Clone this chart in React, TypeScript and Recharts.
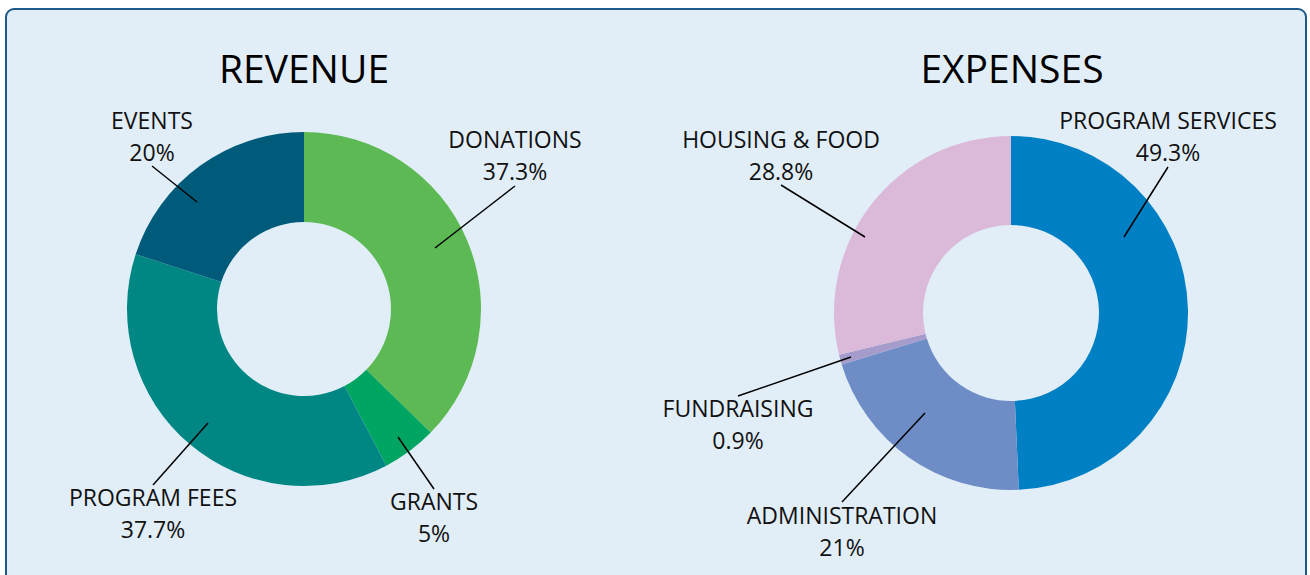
import React from 'react';
import { PieChart, Pie, Cell } from 'recharts';

const revenueNames = ['DONATIONS', 'GRANTS', 'PROGRAM FEES', 'EVENTS'];
const revenueValues = [37.3, 5, 37.7, 20];
const revenueColors = ['#5cb953', '#00a562', '#008784', '#005b7b'];

const expenseNames = ['PROGRAM SERVICES', 'ADMINISTRATION', 'FUNDRAISING', 'HOUSING & FOOD'];
const expenseValues = [49.3, 21, 0.9, 28.8];
const expenseColors = ['#0080c4', '#6e8cc6', '#a69ccc', '#dbb9d8'];

// label placement relative to the pie centre: text centre x, name line centre y, leader line start/end
const revenueLabelLayout = [
  { tx: 211, ty: -169, x1: 131, y1: -61, x2: 211, y2: -123 },
  { tx: 130, ty: 193, x1: 94, y1: 128, x2: 130, y2: 180 },
  { tx: -151, ty: 189, x1: -96, y1: 114, x2: -151, y2: 176 },
  { tx: -152, ty: -188, x1: -107, y1: -107, x2: -152, y2: -143 },
];
const expenseLabelLayout = [
  { tx: 157, ty: -192, x1: 113, y1: -76, x2: 157, y2: -146 },
  { tx: -169, ty: 203, x1: -86, y1: 100, x2: -169, y2: 189 },
  { tx: -273, ty: 96, x1: -160, y1: 44, x2: -273, y2: 83 },
  { tx: -230, ty: -173, x1: -146, y1: -76, x2: -230, y2: -128 },
];

const FONT = '"Open Sans", sans-serif';
const LABEL_SIZE = 23;

const toRows = (names: string[], values: number[]) => names.map((name, i) => ({ name, value: values[i] }));

const makeLabel = (layout: typeof revenueLabelLayout) => (props: any) => {
  const { cx, cy, index, name, value } = props;
  const l = layout[index];
  const base = LABEL_SIZE * 0.36;
  return (
    <g key={`lbl-${index}`}>
      <line x1={cx + l.x1} y1={cy + l.y1} x2={cx + l.x2} y2={cy + l.y2} stroke="#000" strokeWidth={1.5} />
      <text x={cx + l.tx} y={cy + l.ty + base} textAnchor="middle" fontSize={LABEL_SIZE} fontFamily={FONT} fill="#111">
        {name}
      </text>
      <text x={cx + l.tx} y={cy + l.ty + 32 + base} textAnchor="middle" fontSize={LABEL_SIZE} fontFamily={FONT} fill="#111">
        {`${value}%`}
      </text>
    </g>
  );
};

export default function App() {
  const revenue = toRows(revenueNames, revenueValues);
  const expenses = toRows(expenseNames, expenseValues);

  return (
    <div style={{ position: 'absolute', left: 0, top: 0, width: 1310, height: 575, overflow: 'hidden', background: '#fff' }}>
      <div
        style={{
          position: 'absolute',
          left: 5,
          top: 8,
          width: 1298,
          height: 600,
          border: '2px solid #1e5a8a',
          borderRadius: 9,
          background: '#e1eef8',
        }}
      />
      <div style={{ position: 'absolute', left: 0, top: 0 }}>
        <PieChart width={1310} height={575} margin={{ top: 0, right: 0, bottom: 0, left: 0 }}>
          <Pie
            data={revenue}
            dataKey="value"
            nameKey="name"
            cx={304}
            cy={309}
            innerRadius={87}
            outerRadius={177}
            startAngle={90}
            endAngle={-270}
            stroke="none"
            label={makeLabel(revenueLabelLayout)}
            labelLine={false}
            isAnimationActive={false}
          >
            {revenue.map((d, i) => (
              <Cell key={d.name} fill={revenueColors[i]} />
            ))}
          </Pie>
          <Pie
            data={expenses}
            dataKey="value"
            nameKey="name"
            cx={1011}
            cy={313}
            innerRadius={88}
            outerRadius={177}
            startAngle={90}
            endAngle={-270}
            stroke="none"
            label={makeLabel(expenseLabelLayout)}
            labelLine={false}
            isAnimationActive={false}
          >
            {expenses.map((d, i) => (
              <Cell key={d.name} fill={expenseColors[i]} />
            ))}
          </Pie>
        </PieChart>
      </div>
      <div style={{ position: 'absolute', left: 204, width: 200, top: 40, textAlign: 'center', fontFamily: FONT, fontSize: 39, lineHeight: '56px', color: '#000' }}>
        REVENUE
      </div>
      <div style={{ position: 'absolute', left: 862, width: 300, top: 40, textAlign: 'center', fontFamily: FONT, fontSize: 39, lineHeight: '56px', color: '#000' }}>
        EXPENSES
      </div>
    </div>
  );
}
